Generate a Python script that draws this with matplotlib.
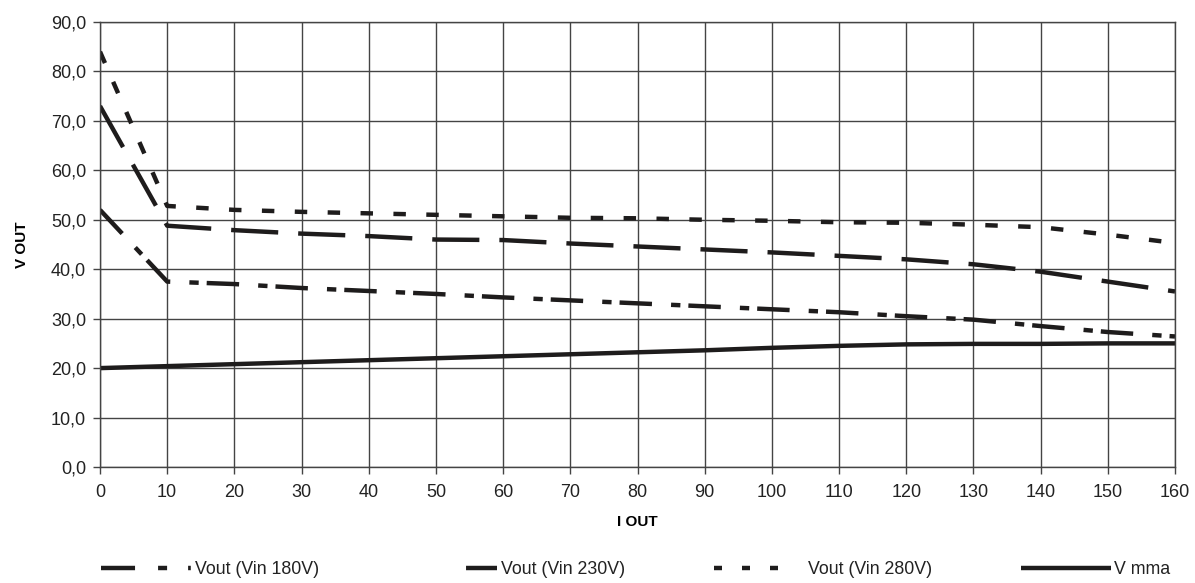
import matplotlib
matplotlib.use("Agg")
import matplotlib.pyplot as plt
from matplotlib.lines import Line2D
from matplotlib.ticker import FuncFormatter

plt.rcParams['font.family'] = ['Liberation Sans', 'DejaVu Sans']

i_out = [0, 10, 20, 30, 40, 50, 60, 70, 80, 90, 100, 110, 120, 130, 140, 150, 160]
vout_180 = [52.0, 37.5, 37.0, 36.2, 35.6, 35.0, 34.3, 33.7, 33.1, 32.5, 31.9, 31.3, 30.5, 29.8, 28.5, 27.3, 26.4]
vout_230 = [73.0, 48.8, 47.9, 47.2, 46.7, 46.0, 45.9, 45.2, 44.6, 44.0, 43.4, 42.7, 42.0, 41.0, 39.5, 37.5, 35.5]
vout_280 = [84.0, 52.8, 52.0, 51.6, 51.3, 51.0, 50.7, 50.4, 50.3, 50.0, 49.8, 49.5, 49.4, 49.0, 48.5, 47.0, 45.3]
v_mma = [20.0, 20.4, 20.8, 21.2, 21.6, 22.0, 22.4, 22.8, 23.2, 23.6, 24.1, 24.5, 24.8, 24.9, 24.9, 25.0, 25.0]
labels = ['Vout (Vin 180V)', 'Vout (Vin 230V)', 'Vout (Vin 280V)', 'V mma']
x_ticks = list(range(0, 161, 10))
y_ticks = list(range(0, 91, 10))

fig = plt.figure(figsize=(11.95, 5.83), dpi=100)
ax = fig.add_axes([100/1195, 1-467/583, 1075/1195, 445/583])

col = '#1e1c1c'
lw = 3.2
ax.plot(i_out, vout_180, color=col, lw=lw, linestyle=(0, (7.3, 4.3, 2.1, 1.8)), dash_capstyle='butt')
ax.plot(i_out, vout_230, color=col, lw=lw, linestyle=(0, (10.6, 4.5)), dash_capstyle='butt')
ax.plot(i_out, vout_280, color=col, lw=lw, linestyle=(0, (2.8, 4.6)), dash_capstyle='butt')
ax.plot(i_out, v_mma, color=col, lw=lw, linestyle='-', solid_capstyle='butt')

ax.set_xlim(0, 160)
ax.set_ylim(0, 90)
ax.set_xticks(x_ticks)
ax.set_yticks(y_ticks)
ax.yaxis.set_major_formatter(FuncFormatter(lambda v, p: f"{v:.1f}".replace('.', ',')))
ax.grid(True, color='#444444', lw=1.0)
ax.set_axisbelow(True)
for s in ax.spines.values():
    s.set_color('#444444')
    s.set_linewidth(1.0)
ax.tick_params(axis='both', direction='out', length=5, width=1, color='#444444',
               labelsize=13, labelcolor='#222222')
ax.tick_params(axis='x', pad=7)
ax.tick_params(axis='y', pad=5)

ax.set_xlabel('I OUT', fontsize=11, fontweight='bold', labelpad=10)
ax.set_ylabel('V OUT', fontsize=11, fontweight='bold', labelpad=16)

# legend proxies mimicking the reference legend keys
h1 = Line2D([], [], color=col, lw=lw, dash_capstyle='butt',
            linestyle=(0, (7.66, 5.18, 2.03, 4.73, 0.6, 5.0)))
h2 = Line2D([], [], color=col, lw=lw, dash_capstyle='butt',
            linestyle=(7.2, (7.2, 13.06)))
h3 = Line2D([], [], color=col, lw=lw, dash_capstyle='butt',
            linestyle=(0, (1.8, 4.5, 1.8, 4.5, 1.8, 6.0)))
h4 = Line2D([], [], color=col, lw=lw, solid_capstyle='butt', linestyle='-')

leg = fig.legend([h1, h2, h3, h4], labels, loc='center left',
                 bbox_to_anchor=(101/1195, 1 - 570/583),
                 ncol=4, frameon=False, fontsize=12.8, handlelength=5.06,
                 handletextpad=0.2, columnspacing=5.0, borderpad=0, borderaxespad=0)
for t in leg.get_texts():
    t.set_color('#222222')

fig.savefig('out.png', dpi=100)
